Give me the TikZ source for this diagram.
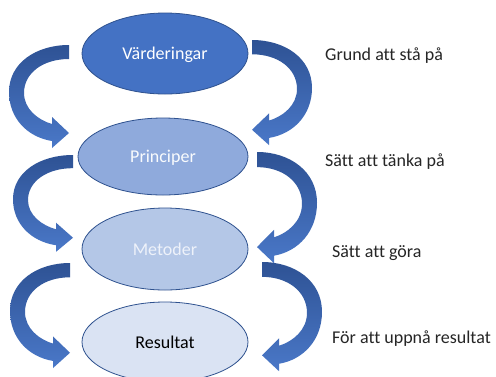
\documentclass[tikz,border=0pt]{standalone}
\usepackage{fontspec}
\setmainfont{Carlito}[Ligatures=NoCommon]
\usetikzlibrary{shapes.geometric}
\definecolor{vcol}{HTML}{4472C4}
\definecolor{pcol}{HTML}{8FAADC}
\definecolor{mcol}{HTML}{B4C7E7}
\definecolor{rcol}{HTML}{DAE3F3}
\definecolor{edgecol}{HTML}{2F528F}
\definecolor{arrdark}{HTML}{2E5294}
\definecolor{arrlight}{HTML}{4A78C8}
\definecolor{mtext}{HTML}{EEF2FA}
\newcommand\curvedarrowshape[4]{%
  \begin{scope}[shift={(#1,#2)}, xscale=#3, yscale=#4]
    \path[arrowfill] (0,0) .. controls (-33,0) and (-60,18) .. (-60,47)
      .. controls (-60,73) and (-42,92) .. (-17,96)
      -- (-17,103) -- (0,88) -- (-17,72) -- (-17,79)
      .. controls (-31,75) and (-45,64) .. (-45,48)
      .. controls (-45,28) and (-26,14) .. (0,14) -- cycle;
  \end{scope}}
\begin{document}
\begin{tikzpicture}[x=1pt,y=-1pt,
  txt/.style={font=\fontsize{18}{22}\selectfont},
  oval/.style={ellipse, draw=edgecol, line width=0.8pt, inner sep=0pt,
    text height=12pt, text depth=0pt, font=\fontsize{18}{22}\selectfont},
  side/.style={txt, anchor=base west, inner sep=0pt, text=black!85},
  arrowfill/.style={top color=arrdark, bottom color=arrlight, draw=none}]
\useasboundingbox (0,0) rectangle (496,376);
\clip (0,0) rectangle (496,376);
\fill[white] (0,0) rectangle (496,376);

% curved arrows
\curvedarrowshape{69}{45}{1}{1}
\curvedarrowshape{73}{155}{1}{0.94}
\curvedarrowshape{70}{263}{1}{1.02}
\curvedarrowshape{252}{40}{-1}{1.02}
\curvedarrowshape{257}{152}{-1}{1.08}
\curvedarrowshape{262}{262}{-1}{1.06}

% ellipses
\node[oval, fill=vcol, text=white, minimum width=166pt, minimum height=81pt] (v) at (165,53.5) {Värderingar};
\node[oval, fill=pcol, text=white!95!pcol, minimum width=170pt, minimum height=77pt] (p) at (163,156.5) {Principer};
\node[oval, fill=mcol, text=mtext, minimum width=166pt, minimum height=82pt] (m) at (165,249) {Metoder};
\node[oval, fill=rcol, text=black, minimum width=166pt, minimum height=80pt] (r) at (165,342) {Resultat};

% side texts
\node[side] (t1) at (325,60) {Grund att stå på};
\node[side] (t2) at (325,166) {Sätt att tänka på};
\node[side] (t3) at (332,257) {Sätt att göra};
\node[side] (t4) at (332,343) {För att uppnå resultat};
\end{tikzpicture}
\end{document}
